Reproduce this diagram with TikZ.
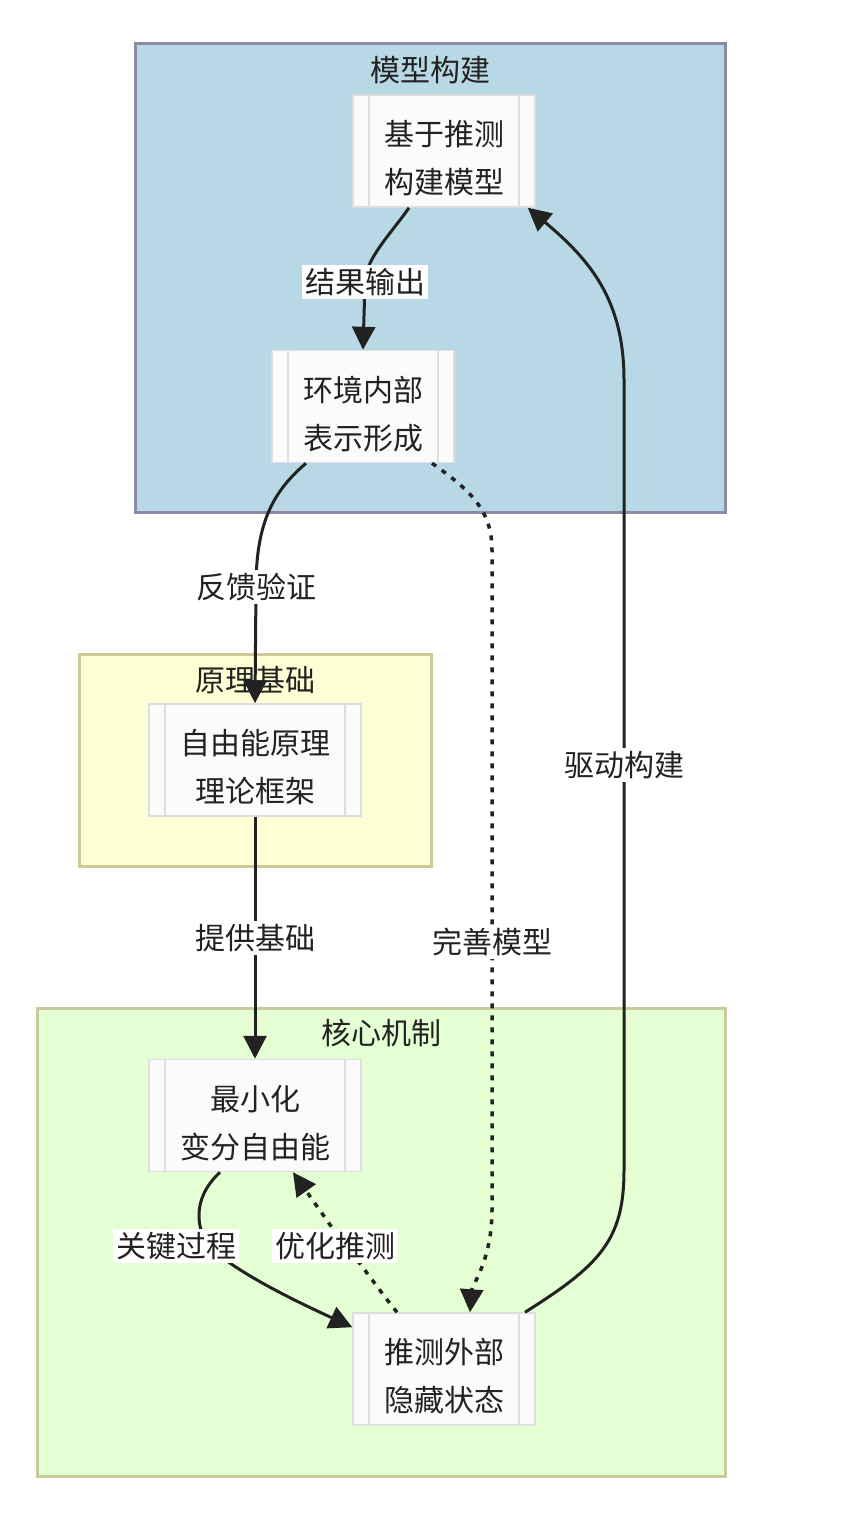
\documentclass[tikz,border=0pt]{standalone}
\usepackage{fontspec}
\setmainfont{Noto Sans CJK SC}
\usetikzlibrary{positioning,arrows.meta}
\definecolor{modelfill}{HTML}{B7D8E4}
\definecolor{modelline}{HTML}{8B8BA8}
\definecolor{basisfill}{HTML}{FFFFD6}
\definecolor{basisline}{HTML}{CBCB95}
\definecolor{corefill}{HTML}{E5FFD5}
\definecolor{coreline}{HTML}{C9CC9A}
\definecolor{procfill}{HTML}{FBFBFB}
\definecolor{procline}{HTML}{DEDEDE}
\definecolor{flowline}{HTML}{222222}
\newcommand{\proclines}[2]{\rule{0pt}{20pt}#1\\#2}
\tikzset{
  proc/.style={draw=procline, line width=0.75pt, fill=procfill, align=center,
    font=\fontsize{15}{24}\selectfont, text=flowline, inner sep=0pt,
    minimum width=91pt, minimum height=56pt,
    path picture={\draw[procline, line width=0.75pt]
      ([xshift=8pt]path picture bounding box.north west) -- ([xshift=8pt]path picture bounding box.south west)
      ([xshift=-8pt]path picture bounding box.north east) -- ([xshift=-8pt]path picture bounding box.south east);}},
  wide/.style={minimum width=106pt},
  zone/.style={line width=1.5pt},
  zonetitle/.style={font=\fontsize{15}{18}\selectfont, text=flowline, inner sep=0pt},
  flow/.style={-{Triangle[length=11.5pt,width=11.5pt]}, line width=1.5pt, draw=flowline},
  hint/.style={flow, line width=1.75pt, dash pattern=on 2.5pt off 3.5pt},
  lbl/.style={fill=white, font=\fontsize{15}{18}\selectfont, text=flowline, inner sep=1.5pt}
}

\begin{document}
\begin{tikzpicture}[x=0.5pt,y=-0.5pt]
\useasboundingbox (0,0) rectangle (848,1520);
\draw[zone, draw=modelline, fill=modelfill] (135,44) rectangle (725,512);
\draw[zone, draw=basisline, fill=basisfill] (79,654) rectangle (431,866);
\draw[zone, draw=coreline, fill=corefill] (37,1008) rectangle (725,1476);
\node[zonetitle] (t_model) at (430,70) {模型构建};
\node[zonetitle] (t_basis) at (255,680) {原理基础};
\node[zonetitle] (t_core) at (381,1033) {核心机制};

\node[proc] (build) at (444,151) {\proclines{基于推测}{构建模型}};
\node[proc] (inner) [below=71pt of build, xshift=-40.5pt] {\proclines{环境内部}{表示形成}};
\node[proc, wide] (fep) at (255,760) {\proclines{自由能原理}{理论框架}};
\node[proc, wide] (minfe) [below=121pt of fep] {\proclines{最小化}{变分自由能}};
\node[proc] (hidden) at (444,1369) {\proclines{推测外部}{隐藏状态}};

\draw[flow] ([xshift=-17.5pt]build.south) .. controls (390,235) and (366,258) .. (365,282)
  node[lbl] {结果输出} -- (inner.north);
\draw[flow] ([xshift=-28.5pt]inner.south) .. controls (275,490) and (256,520) .. (256,587)
  node[lbl] {反馈验证} -- (fep.north);
\draw[flow] (fep) -- node[lbl] {提供基础} (minfe);
\draw[hint] ([xshift=34.5pt]inner.south) .. controls (470,490) and (492,510) .. (492,550)
  -- (492,942) node[lbl] {完善模型} -- (492,1210)
  .. controls (492,1260) and (472,1285) .. ([xshift=13pt]hidden.north);
\draw[flow] ([xshift=-17.5pt]minfe.south) .. controls (190,1200) and (198,1230) .. (208,1246)
  node[lbl, xshift=-16pt] {关键过程}
  .. controls (240,1275) and (300,1303) .. ([yshift=-7.5pt]hidden.north west);
\draw[hint] ([xshift=-23.5pt]hidden.north) .. controls (375,1285) and (355,1255) .. (345,1246)
  node[lbl, xshift=-5pt] {优化推测} -- ([xshift=19pt]minfe.south);
\draw[flow] ([xshift=40.5pt]hidden.north) .. controls (600,1265) and (624,1240) .. (624,1170)
  -- node[lbl, pos=0.513] {驱动构建} (624,380)
  .. controls (624,300) and (590,260) .. ([xshift=-4pt]build.south east);
\end{tikzpicture}
\end{document}
